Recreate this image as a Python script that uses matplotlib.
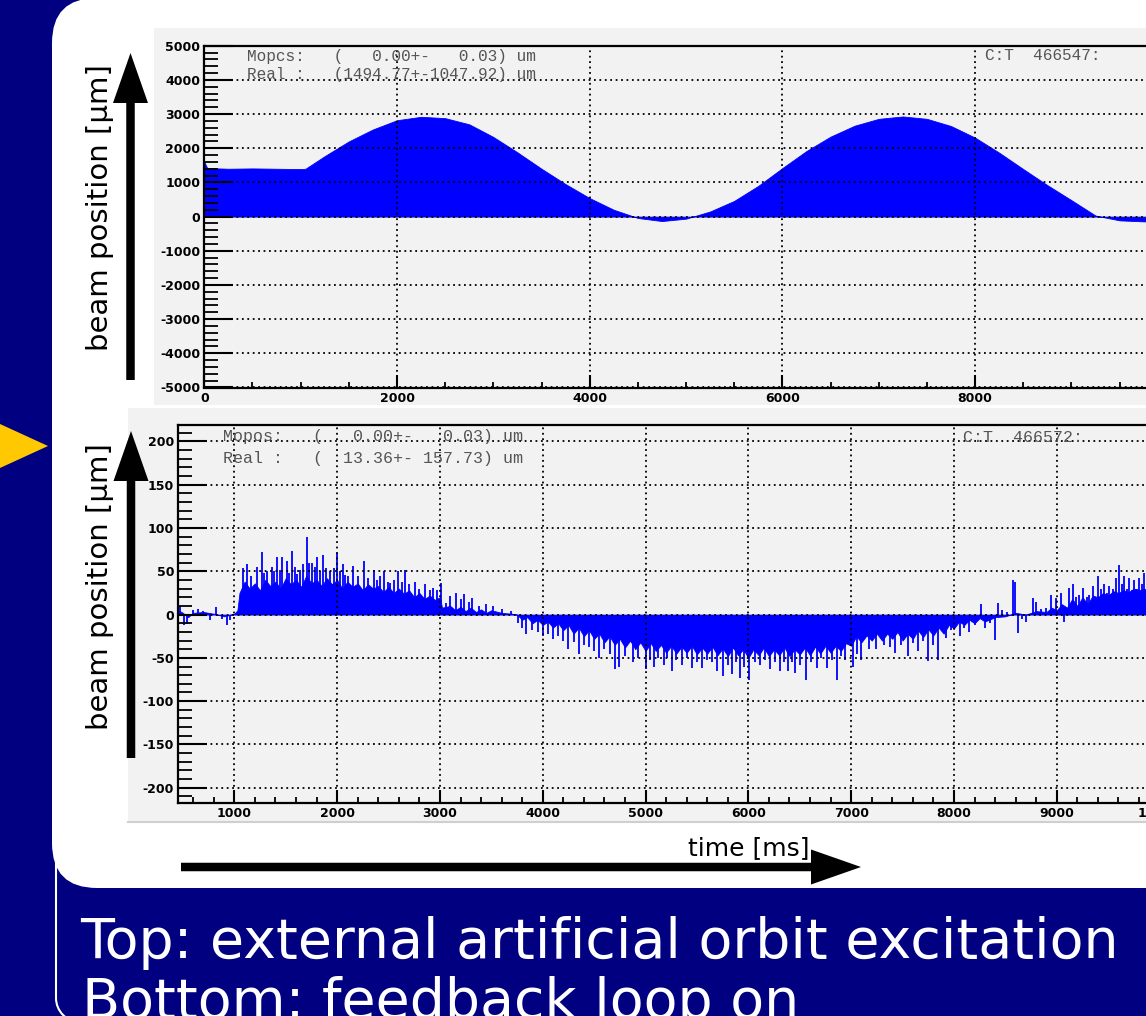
import matplotlib
matplotlib.use("Agg")

import matplotlib.pyplot as plt
from matplotlib.patches import Arc, FancyArrow, FancyBboxPatch, Polygon, Rectangle
from matplotlib.ticker import MultipleLocator

W, H = 1146, 1016
NAVY = "#000080"
BLUE = "#0000ff"
PANEL = "#f2f2f2"
STAT_GREY = "#555555"

# top: orbit under external excitation (envelope of the filled trace), um vs ms
top_t = [0, 30, 250, 500, 750, 1000, 1050, 1250, 1500, 1750, 2000, 2250, 2500,
         2750, 3000, 3250, 3500, 3750, 4000, 4250, 4500, 4750, 5000, 5250, 5500,
         5750, 6000, 6250, 6500, 6750, 7000, 7250, 7500, 7750, 8000, 8250, 8500,
         8750, 9000, 9250, 9500, 9750, 10000, 10500]
top_um = [1600, 1420, 1400, 1410, 1400, 1390, 1400, 1770, 2200, 2550, 2820, 2920,
          2880, 2700, 2330, 1880, 1400, 950, 540, 200, -40, -130, -60, 150, 460,
          900, 1420, 1920, 2340, 2660, 2860, 2930, 2860, 2650, 2310, 1870, 1390,
          920, 480, 30, -110, -140, -130, -120]

# bottom: feedback loop on - dense body of the trace ...
base_t = [455, 500, 550, 600, 700, 800, 900, 1000, 1030,
          1050, 1100, 1150, 1200, 1250, 1300, 1350, 1400, 1450, 1500, 1550, 1600,
          1650, 1700, 1750, 1800, 1850, 1900, 1950, 2000, 2050, 2100, 2150, 2200,
          2250, 2300, 2350, 2400, 2450, 2500, 2550, 2600, 2650, 2700, 2750, 2800,
          2850, 2900, 2950, 3000, 3020, 3100, 3150, 3200, 3250, 3300, 3350, 3400,
          3450, 3500, 3600, 3700, 3750,
          3800, 3850, 3900, 3950, 4000, 4050, 4100, 4150, 4200, 4250, 4300, 4350,
          4400, 4450, 4500, 4550, 4600, 4650, 4700, 4750, 4800, 4850, 4900, 4950,
          5000, 5050, 5100, 5150, 5200, 5250, 5300, 5350, 5400, 5450, 5500, 5550,
          5600, 5650, 5700, 5750, 5800, 5850, 5900, 5950, 6000, 6050, 6100, 6150,
          6200, 6250, 6300, 6350, 6400, 6450, 6500, 6550, 6600, 6650, 6700, 6750,
          6800, 6850, 6900, 6950, 7000, 7050, 7100, 7150, 7200, 7250, 7300, 7350,
          7400, 7450, 7500, 7550, 7600, 7650, 7700, 7750, 7800, 7850, 7900, 7950,
          8000, 8050, 8100, 8150, 8200, 8250, 8300, 8400, 8500, 8600, 8700, 8800,
          8900, 8950, 9000, 9050, 9100, 9150, 9200, 9250, 9300, 9350, 9400, 9450,
          9500, 9550, 9600, 9650, 9700, 9750, 9800, 9850, 9900, 9950, 10000,
          10100, 10200, 10300, 10500]
base_um = [5, 2, -3, 2, 3, 1, -2, 1, 5,
           25, 38, 30, 36, 28, 40, 33, 38, 30, 42, 35, 40,
           32, 45, 36, 40, 33, 42, 35, 40, 30, 38, 32, 36,
           28, 35, 30, 33, 26, 32, 25, 30, 24, 28, 20, 25,
           18, 22, 17, 20, 8, 10, 5, 9, 4, 8, 3, 6,
           2, 5, 2, 1, 0,
           -6, -3, -10, -6, -12, -8, -15, -10, -18, -12, -22, -15,
           -25, -18, -28, -22, -32, -25, -35, -28, -38, -30, -40, -32,
           -42, -33, -42, -35, -44, -36, -45, -37, -44, -36, -46, -38,
           -45, -37, -47, -39, -48, -38, -47, -40, -50, -40, -47, -38,
           -48, -40, -47, -38, -48, -40, -46, -38, -47, -37, -45, -36,
           -44, -36, -42, -33, -36, -25, -32, -24, -30, -22, -30, -22,
           -28, -20, -30, -22, -28, -18, -26, -17, -24, -15, -22, -12,
           -16, -8, -12, -6, -10, -4, -8, -3, -2, 2, 0, 4,
           3, 8, 5, 12, 8, 18, 10, 20, 12, 22, 20, 25,
           22, 27, 25, 28, 26, 30, 28, 30, 26, 32, 25,
           30, 26, 30, 28]

# ... and the individual spikes that stick out of it, (ms, um)
spikes = [
    (470, 10), (510, -12), (540, -11), (600, 5), (650, 6), (700, 4), (760, -6),
    (820, 9), (880, -5), (930, -12), (960, -6),
    (1087, 54), (1120, 58), (1160, 45), (1217, 55), (1265, 72), (1290, 48),
    (1314, 50), (1362, 55), (1390, 50), (1411, 67), (1440, 52), (1460, 67),
    (1508, 62), (1530, 48), (1560, 74), (1590, 55), (1612, 47), (1640, 52),
    (1670, 58), (1709, 90), (1730, 60), (1751, 60), (1780, 55), (1806, 67),
    (1830, 50), (1858, 69), (1896, 54), (1930, 50), (1968, 54), (2000, 71),
    (2030, 50), (2058, 58), (2080, 46), (2107, 44), (2155, 56), (2200, 45),
    (2259, 62), (2300, 42), (2356, 52), (2390, 40), (2414, 44), (2460, 50),
    (2490, 38), (2512, 37), (2550, 40), (2592, 50), (2630, 38), (2663, 52),
    (2700, 35), (2754, 38), (2800, 30), (2851, 35), (2900, 28), (2932, 31),
    (2970, 28), (3013, 37), (3061, 13), (3100, 22), (3159, 25), (3200, 18),
    (3230, 24), (3280, 15), (3314, 19), (3380, 10), (3450, 12), (3515, 10),
    (3600, 6), (3693, 4),
    (3760, -10), (3800, -15), (3838, -22), (3900, -18), (3950, -20), (4000, -25),
    (4050, -22), (4100, -28), (4150, -25), (4200, -30), (4243, -40), (4300, -32),
    (4356, -45), (4400, -35), (4450, -38), (4500, -42), (4544, -50), (4600, -40),
    (4650, -45), (4706, -63), (4744, -60), (4800, -48), (4874, -55), (4930, -50),
    (5003, -63), (5040, -52), (5084, -60), (5120, -50), (5175, -58), (5210, -50),
    (5256, -65), (5300, -52), (5353, -58), (5400, -50), (5450, -62), (5500, -55),
    (5547, -62), (5600, -52), (5650, -55), (5693, -65), (5757, -71), (5800, -58),
    (5838, -69), (5880, -55), (5919, -73), (5960, -60), (6010, -75), (6060, -55),
    (6113, -58), (6160, -52), (6210, -63), (6260, -55), (6307, -65), (6350, -55),
    (6388, -65), (6420, -55), (6453, -67), (6500, -58), (6560, -75), (6610, -55),
    (6663, -62), (6710, -50), (6760, -62), (6810, -52), (6858, -75), (6900, -48),
    (6939, -52), (7013, -60), (7060, -45), (7100, -52), (7170, -40), (7246, -40),
    (7320, -35), (7380, -38), (7424, -44), (7480, -35), (7553, -48), (7600, -33),
    (7650, -42), (7700, -30), (7747, -54), (7800, -35), (7845, -52), (7926, -27),
    (7970, -18),
    (8055, -25), (8100, -15), (8150, -20), (8200, -12), (8265, 12), (8300, -15),
    (8350, -10), (8395, -29), (8427, 13), (8470, 5), (8520, 3), (8573, 40),
    (8589, 38), (8621, -21), (8660, -5), (8702, -8), (8767, 19), (8799, 15),
    (8850, 6), (8897, 8),
    (8945, 23), (8994, 19), (9042, 25), (9074, -8), (9123, 31), (9155, 35),
    (9190, 20), (9220, 23), (9252, 31), (9290, 20), (9317, 23), (9350, 33),
    (9398, 44), (9430, 30), (9463, 35), (9490, 25), (9511, 33), (9545, 30),
    (9576, 42), (9602, 57), (9630, 35), (9657, 44), (9680, 30), (9706, 42),
    (9730, 28), (9754, 40), (9780, 30), (9803, 42), (9830, 35), (9851, 48),
    (9880, 40), (9910, 45), (9950, 38), (9990, 50), (10030, 40), (10070, 46),
]
spike_t = [t for t, _ in spikes]
spike_um = [v for _, v in spikes]

top_stats = ["Mopcs:   (   0.00+-   0.03) um", "Real :   (1494.77+-1047.92) um"]
top_counter = "C:T  466547:"
bottom_stats = ["Mopos:   (   0.00+-   0.03) um", "Real :   (  13.36+- 157.73) um"]
bottom_counter = "C:T  466572:"

y_label = "beam position [µm]"
x_label = "time [ms]"
caption = ["Top: external artificial orbit excitation", "Bottom: feedback loop on"]

plt.rcParams["font.family"] = "DejaVu Sans"
plt.rcParams["axes.unicode_minus"] = False

fig = plt.figure(figsize=(W / 100, H / 100), dpi=100, facecolor=NAVY)


def pixel_layer(zorder):
    ax = fig.add_axes([0, 0, 1, 1], zorder=zorder)
    ax.set_xlim(0, W)
    ax.set_ylim(H, 0)
    ax.axis("off")
    ax.patch.set_visible(False)
    return ax


def px_axes(left, top, right, bottom, zorder=2):
    return fig.add_axes([left / W, 1 - bottom / H, (right - left) / W, (bottom - top) / H],
                        zorder=zorder)


def style_axes(ax, x_major, x_minor, y_major, y_minor):
    ax.set_facecolor("none")
    ax.xaxis.set_major_locator(MultipleLocator(x_major))
    ax.xaxis.set_minor_locator(MultipleLocator(x_minor))
    ax.yaxis.set_major_locator(MultipleLocator(y_major))
    ax.yaxis.set_minor_locator(MultipleLocator(y_minor))
    for spine in ax.spines.values():
        spine.set_linewidth(1.6)
        spine.set_color("black")
    ax.tick_params(axis="y", which="major", direction="in", length=21, width=1.5, pad=3)
    ax.tick_params(axis="y", which="minor", direction="in", length=10, width=1.3)
    ax.tick_params(axis="x", which="major", direction="in", length=9.5, width=1.5, pad=3)
    ax.tick_params(axis="x", which="minor", direction="in", length=4.5, width=1.3)
    ax.grid(which="major", color="black", linestyle=(0, (1, 2)), linewidth=1.3)
    ax.set_axisbelow(False)
    for lab in ax.get_xticklabels() + ax.get_yticklabels():
        lab.set_fontweight("bold")
        lab.set_fontsize(9)


# slide background: white rounded card on navy, grey ROOT canvases
bg = pixel_layer(0)
# thin white outline of the caption box (left edge and its lower corner)
bg.plot([56, 56], [860, 998], color="white", lw=1.5, solid_capstyle="butt")
bg.add_patch(Arc((80, 998), 48, 48, theta1=90, theta2=180, color="white", lw=1.5))
bg.add_patch(FancyBboxPatch((52, -2), 1300, 890, boxstyle="round,pad=0,rounding_size=45",
                            fc="white", ec="none"))
bg.add_patch(Rectangle((154, 28), 1100, 377, fc=PANEL, ec="none"))
bg.add_patch(Rectangle((128, 408), 1100, 414, fc=PANEL, ec="none"))
bg.plot([128, W], [822, 822], color="#cfcfcf", lw=1.5)

# top plot
ax1 = px_axes(204.3, 45.7, 1216, 387.5)
ax1.fill_between(top_t, 0, top_um, color=BLUE, lw=0.6, edgecolor=BLUE, zorder=1)
ax1.set_xlim(0, 10500)
ax1.set_ylim(-5000, 5000)
style_axes(ax1, 2000, 500, 1000, 200)

# bottom plot
ax2 = px_axes(178.3, 425, 1211, 803.3)
ax2.fill_between(base_t, 0, base_um, color=BLUE, lw=0.6, edgecolor=BLUE, zorder=1)
ax2.vlines(spike_t, 0, spike_um, color=BLUE, lw=1.3, zorder=1.5)
ax2.set_xlim(455, 10500)
ax2.set_ylim(-218, 219)
style_axes(ax2, 1000, 200, 50, 10)

# annotations on top
fr = pixel_layer(10)
mono = dict(family="Liberation Mono", color=STAT_GREY, va="center", ha="left")
fr.text(246.7, 56, top_stats[0], fontsize=11.6, **mono)
fr.text(246.7, 75, top_stats[1], fontsize=11.6, **mono)
fr.text(985, 56, top_counter, fontsize=11.6, **mono)
fr.text(222.7, 436, bottom_stats[0], fontsize=12, **mono)
fr.text(222.7, 458, bottom_stats[1], fontsize=12, **mono)
fr.text(963, 437, bottom_counter, fontsize=12, **mono)

fr.text(100, 208, y_label, rotation=90, ha="center", va="center", fontsize=21)
fr.text(100, 587, y_label, rotation=90, ha="center", va="center", fontsize=21)
fr.text(749, 848, x_label, ha="center", va="center", fontsize=18)

arrow = dict(width=8.5, head_width=35, head_length=50, length_includes_head=True,
             fc="black", ec="none")
fr.add_patch(FancyArrow(130.5, 380, 0, -327, **arrow))
fr.add_patch(FancyArrow(131, 758, 0, -327, **arrow))
fr.add_patch(FancyArrow(181, 867, 680, 0, **arrow))

fr.add_patch(Polygon([(0, 424), (48, 446), (0, 468)], closed=True, fc="#ffc800", ec="none"))

fr.text(80, 958, caption[0], color="white", fontsize=40, ha="left", va="baseline")
fr.text(82, 1018, caption[1], color="white", fontsize=40, ha="left", va="baseline")

fig.savefig("out.png", dpi=100, facecolor=NAVY)
